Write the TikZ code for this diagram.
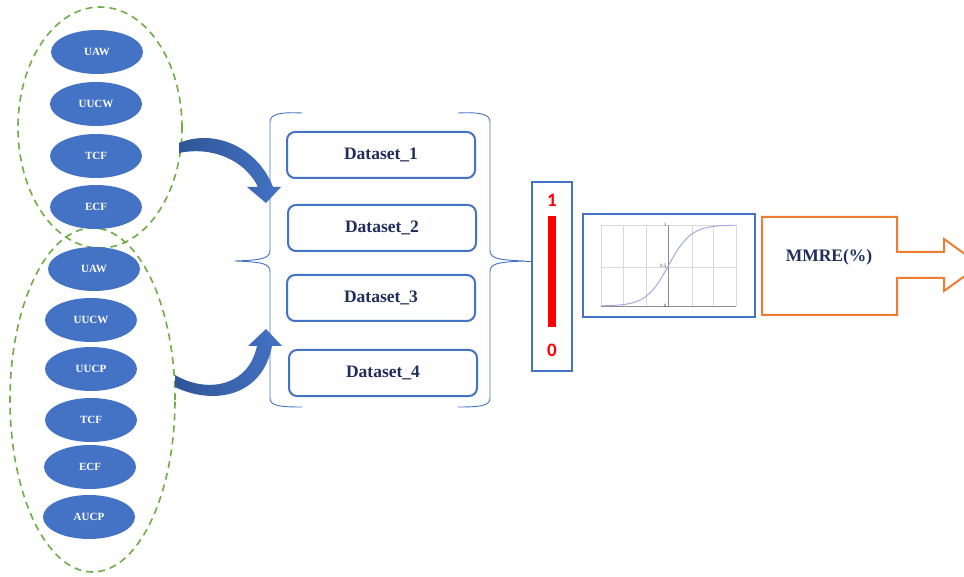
\documentclass[tikz,border=0pt]{standalone}
\usepackage{fontspec}
\setmainfont{Liberation Serif}
\newfontfamily\carlfont{Carlito}
\usetikzlibrary{shapes.geometric}
\definecolor{blobblue}{HTML}{4472C4}
\definecolor{blobdark}{HTML}{2F5597}
\definecolor{dashgreen}{HTML}{70AD47}
\definecolor{navytext}{HTML}{1F2D5F}
\definecolor{orangeline}{HTML}{ED7D31}
\definecolor{gridgray}{HTML}{D9D9D9}
\definecolor{axisgray}{HTML}{8C8C8C}
\definecolor{sigcurve}{HTML}{9DA5E0}
\tikzset{
  blob/.style={ellipse, fill=blobblue, draw=none, minimum width=92pt, minimum height=44pt, inner sep=0pt,
    text=white, font=\fontsize{11}{12}\selectfont\bfseries},
  groupring/.style={draw=dashgreen, line width=1.6pt, dash pattern=on 7pt off 5pt},
  dsbox/.style={rectangle, rounded corners=8pt, draw=blobblue, line width=2pt, minimum width=188pt, minimum height=46pt,
    text=navytext, font=\fontsize{17.5}{20}\selectfont\bfseries},
  bracket/.style={draw=blobblue, line width=0.9pt},
  bluebox/.style={rectangle, draw=blobblue, line width=2pt, inner sep=0pt},
  rednum/.style={text=red, font=\fontsize{19}{20}\selectfont\carlfont\bfseries, inner sep=0pt},
  bentarrow/.style={left color=blobdark, right color=blobblue, draw=none},
  gridline/.style={draw=gridgray, line width=0.7pt},
  ticklabel/.style={font=\fontsize{5}{6}\selectfont, text=black!70, inner sep=0.5pt}
}
\begin{document}
\begin{tikzpicture}[x=1pt,y=-1pt]
\useasboundingbox[fill=white] (0,0) rectangle (964,577);
\clip (0,0) rectangle (964,577);

% dashed group rings
\draw[groupring] (100,127.5) ellipse [x radius=82pt, y radius=120.5pt];
\draw[groupring] (92.5,400) ellipse [x radius=82.5pt, y radius=172pt];

% top group
\node[blob] (a1) at (97,52) {UAW};
\node[blob] (a2) at (96,104) {UUCW};
\node[blob] (a3) at (96,156) {TCF};
\node[blob] (a4) at (96,207) {ECF};

% bottom group
\node[blob] (b1) at (94,269) {UAW};
\node[blob] (b2) at (91,320) {UUCW};
\node[blob] (b3) at (91,369) {UUCP};
\node[blob] (b4) at (91,420) {TCF};
\node[blob] (b5) at (90,467) {ECF};
\node[blob] (b6) at (89,517) {AUCP};

% bent arrows
\path[bentarrow] (179,143) .. controls (215,128) and (258,148) .. (273,187)
  -- (281,187) -- (266,203) -- (247,187) -- (258,187)
  .. controls (245,160) and (212,146) .. (179,153) -- cycle;
\path[bentarrow] (175,375) .. controls (205,393) and (248,388) .. (257,346)
  -- (248,346) -- (266,329) -- (282,346) -- (272,346)
  .. controls (262,398) and (212,405) .. (175,387) -- cycle;

% braces
\draw[bracket] (302,113) .. controls (280,112) and (270,114) .. (270,122) -- (270,250)
  .. controls (270,258) and (264,260) .. (235,261)
  .. controls (264,262) and (270,264) .. (270,272) -- (270,398)
  .. controls (270,406) and (280,407) .. (302,407);
\draw[bracket] (458,113) .. controls (480,112) and (490,114) .. (490,122) -- (490,250)
  .. controls (490,258) and (496,260) .. (525,261)
  .. controls (496,262) and (490,264) .. (490,272) -- (490,398)
  .. controls (490,406) and (480,407) .. (458,407);
\coordinate (bracetip) at (525,261);

% datasets
\node[dsbox] (d1) at (381,155) {Dataset\_1};
\node[dsbox] (d2) at (382,228) {Dataset\_2};
\node[dsbox] (d3) at (381,298) {Dataset\_3};
\node[dsbox] (d4) at (383,373) {Dataset\_4};

% normalisation bar
\node[bluebox, minimum width=40pt, minimum height=189pt] (norm) at (552,276.5) {};
\draw[bracket] (bracetip) -- (norm.west |- bracetip);
\fill[red] (548,216) rectangle (556,327);
\node[rednum] (one) at (552,200) {1};
\node[rednum] (zero) at (552,350) {0};

% sigmoid box
\node[bluebox, minimum width=172pt, minimum height=103pt] (sig) at (669,265.5) {};
\foreach \gx in {601,623,646,692,713,736} \draw[gridline] (\gx,225) -- (\gx,306);
\draw[gridline] (601,225) -- (736,225);
\draw[gridline] (601,267) -- (736,267);
\draw[draw=axisgray, line width=0.8pt] (601,306) -- (736,306);
\draw[draw=axisgray, line width=1pt] (668,225) -- (668,306);
\draw[sigcurve, line width=0.9pt] plot[domain=-6:6, samples=80, smooth] ({668.5+\x*67.5/6}, {306-81/(1+exp(-\x))});
\node[ticklabel, anchor=east] (t1) at (667,225) {1};
\node[ticklabel, anchor=east] (t05) at (667,266) {0.5};
\node[ticklabel, anchor=east] (t0) at (667,306) {0};

% output arrow
\draw[orangeline, line width=2pt, line join=miter] (762,217) -- (897,217) -- (897,252) -- (944,252) -- (944,239)
  -- (980,265) -- (944,291) -- (944,278) -- (897,278) -- (897,315) -- (762,315) -- cycle;
\node[text=navytext, font=\fontsize{17.5}{20}\selectfont\bfseries] (mmre) at (829,257) {MMRE(\%)};
\end{tikzpicture}
\end{document}
